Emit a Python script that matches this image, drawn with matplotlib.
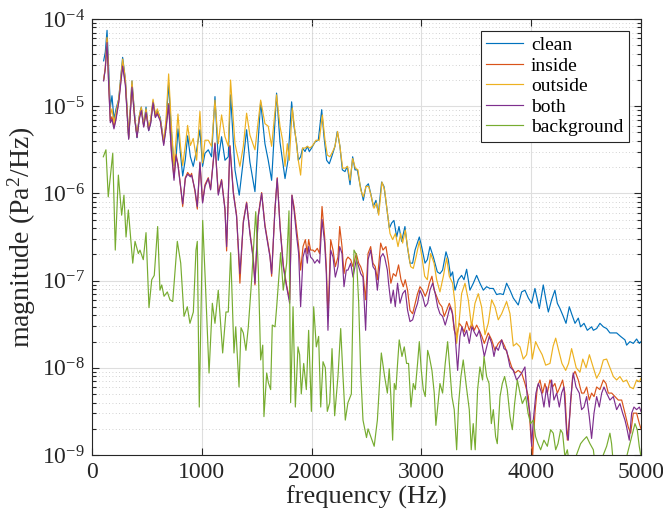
import numpy as np
import matplotlib
matplotlib.use("Agg")
import matplotlib.pyplot as plt
from matplotlib.ticker import LogLocator, NullFormatter


# Power spectra, as (frequency in Hz, log10 of magnitude in Pa^2/Hz)
CLEAN = [
    (106, -4.48), (121, -4.38), (137, -4.13), (152, -4.57), (167, -5.01), (182, -4.88), (200, -5.15), (219, -5.03),
    (243, -4.92), (279, -4.44), (304, -4.69), (334, -5.36), (364, -4.71), (389, -5.11), (410, -5.36), (431, -5.11),
    (449, -5.01), (471, -5.22), (492, -5.01), (516, -5.28), (534, -5.19), (556, -4.94), (577, -5.11), (595, -5.05),
    (622, -5.13), (653, -5.41), (674, -5.22), (698, -4.73), (723, -5.30), (747, -5.68), (765, -5.61), (783, -5.26),
    (805, -5.53), (826, -5.80), (850, -5.61), (871, -5.34), (896, -5.58), (922, -5.69), (953, -5.50), (983, -5.27),
    (1007, -5.69), (1029, -5.54), (1059, -5.50), (1089, -5.58), (1120, -4.89), (1150, -5.62), (1180, -5.35),
    (1211, -5.62), (1241, -5.58), (1262, -4.87), (1302, -5.73), (1341, -6.02), (1378, -5.62), (1408, -5.27),
    (1438, -5.64), (1484, -5.98), (1536, -4.95), (1575, -5.43), (1605, -5.62), (1636, -5.85), (1681, -4.85),
    (1712, -5.41), (1758, -5.83), (1785, -5.62), (1818, -4.95), (1840, -5.23), (1864, -5.43), (1879, -5.62),
    (1900, -5.58), (1918, -5.48), (1940, -5.52), (1961, -5.46), (1979, -5.52), (2000, -5.48), (2031, -5.41),
    (2061, -5.39), (2092, -5.04), (2113, -5.35), (2137, -5.62), (2161, -5.66), (2183, -5.58), (2213, -5.46),
    (2234, -5.29), (2258, -5.46), (2280, -5.73), (2304, -5.75), (2325, -5.69), (2350, -5.90), (2374, -5.58),
    (2395, -5.73), (2416, -5.73), (2441, -5.90), (2471, -6.08), (2495, -5.92), (2517, -5.89), (2538, -6.00),
    (2562, -6.15), (2586, -6.08), (2608, -6.23), (2638, -5.87), (2659, -5.92), (2683, -6.15), (2708, -6.40),
    (2729, -6.34), (2750, -6.31), (2775, -6.50), (2796, -6.38), (2820, -6.55), (2850, -6.38), (2872, -6.61),
    (2896, -6.80), (2920, -6.80), (2942, -6.65), (2981, -6.50), (3002, -6.61), (3033, -6.80), (3054, -6.76),
    (3078, -6.61), (3109, -6.73), (3145, -6.90), (3169, -6.92), (3193, -6.88), (3224, -6.67), (3245, -6.76),
    (3266, -6.95), (3284, -6.90), (3306, -7.11), (3336, -6.99), (3366, -6.94), (3388, -6.99), (3412, -6.87),
    (3442, -7.11), (3473, -7.03), (3503, -6.94), (3533, -7.03), (3564, -7.11), (3594, -7.07), (3624, -7.09),
    (3655, -7.09), (3685, -7.16), (3716, -7.15), (3746, -7.16), (3776, -7.03), (3807, -7.11), (3837, -7.20),
    (3882, -7.28), (3913, -7.13), (3943, -7.11), (3974, -7.20), (4004, -7.26), (4034, -7.09), (4074, -7.32),
    (4110, -7.05), (4134, -7.22), (4156, -7.36), (4186, -7.22), (4216, -7.11), (4238, -7.26), (4262, -7.32),
    (4292, -7.41), (4317, -7.49), (4347, -7.30), (4368, -7.38), (4399, -7.49), (4429, -7.43), (4450, -7.53),
    (4481, -7.49), (4511, -7.57), (4550, -7.53), (4566, -7.57), (4596, -7.55), (4626, -7.49), (4657, -7.53),
    (4687, -7.55), (4717, -7.60), (4748, -7.60), (4778, -7.60), (4814, -7.64), (4854, -7.68), (4869, -7.74),
    (4899, -7.70), (4930, -7.72), (4960, -7.67), (4985, -7.72), (5000, -7.70),
]

INSIDE = [
    (106, -4.70), (121, -4.56), (137, -4.23), (152, -4.74), (167, -5.17), (182, -5.12), (200, -5.24), (219, -5.13),
    (243, -4.95), (279, -4.51), (304, -4.74), (334, -5.37), (364, -4.76), (389, -5.14), (410, -5.35), (431, -5.13),
    (449, -5.03), (471, -5.23), (492, -5.05), (516, -5.27), (534, -5.18), (556, -4.95), (577, -5.12), (595, -5.07),
    (622, -5.16), (653, -5.43), (674, -5.24), (698, -4.97), (723, -5.50), (747, -5.82), (765, -5.55), (783, -5.66),
    (805, -5.90), (826, -6.15), (850, -5.82), (871, -5.76), (896, -5.80), (907, -5.77), (938, -5.98), (959, -6.18),
    (983, -5.64), (1007, -6.10), (1029, -5.90), (1059, -5.82), (1080, -5.95), (1120, -5.42), (1150, -6.00),
    (1180, -5.84), (1211, -6.17), (1226, -6.66), (1256, -5.45), (1287, -5.98), (1317, -6.25), (1347, -7.03),
    (1378, -6.32), (1408, -6.10), (1438, -6.44), (1469, -6.74), (1484, -7.05), (1514, -6.25), (1545, -5.99),
    (1575, -6.36), (1621, -6.71), (1636, -6.95), (1666, -6.18), (1687, -5.82), (1712, -6.36), (1742, -6.82),
    (1772, -7.05), (1800, -7.22), (1821, -6.02), (1840, -6.15), (1861, -6.38), (1882, -6.61), (1900, -6.88),
    (1922, -6.61), (1943, -6.53), (1961, -6.69), (1973, -6.53), (1991, -6.65), (2013, -6.65), (2028, -6.67),
    (2052, -6.63), (2073, -6.69), (2095, -6.15), (2119, -6.50), (2134, -6.84), (2149, -7.41), (2174, -6.53),
    (2195, -6.65), (2216, -6.84), (2240, -6.73), (2256, -6.38), (2277, -6.61), (2295, -6.92), (2316, -6.76),
    (2331, -6.73), (2356, -6.76), (2377, -6.84), (2407, -6.69), (2429, -6.80), (2447, -6.84), (2468, -6.92),
    (2492, -7.22), (2514, -6.69), (2538, -6.61), (2559, -6.80), (2580, -6.84), (2599, -6.99), (2629, -6.57),
    (2650, -6.65), (2677, -6.61), (2701, -6.80), (2722, -7.03), (2744, -6.92), (2768, -6.95), (2792, -6.82),
    (2814, -6.99), (2835, -7.07), (2853, -6.99), (2874, -7.11), (2896, -7.34), (2920, -7.38), (2944, -7.26),
    (2965, -7.15), (2987, -7.07), (3011, -7.11), (3035, -7.18), (3057, -7.11), (3072, -7.03), (3096, -6.95),
    (3117, -7.11), (3138, -7.18), (3163, -7.26), (3187, -7.30), (3208, -7.41), (3230, -7.34), (3254, -7.26),
    (3278, -7.34), (3299, -7.57), (3321, -7.64), (3345, -7.49), (3369, -7.53), (3390, -7.59), (3412, -7.47),
    (3436, -7.57), (3460, -7.49), (3481, -7.57), (3503, -7.51), (3527, -7.57), (3551, -7.64), (3573, -7.72),
    (3609, -7.60), (3640, -7.68), (3670, -7.80), (3700, -7.72), (3731, -7.68), (3761, -7.76), (3791, -7.87),
    (3822, -7.99), (3852, -8.06), (3882, -8.03), (3913, -8.06), (3943, -8.18), (3974, -8.33), (3995, -8.75),
    (4013, -9.02), (4034, -8.52), (4056, -8.22), (4080, -8.14), (4104, -8.29), (4125, -8.18), (4147, -8.29),
    (4171, -8.14), (4195, -8.22), (4216, -8.18), (4238, -8.29), (4262, -8.22), (4286, -8.14), (4307, -8.29),
    (4329, -8.83), (4353, -8.52), (4377, -8.10), (4399, -8.04), (4429, -8.14), (4459, -8.29), (4481, -8.29),
    (4505, -8.22), (4529, -8.37), (4550, -8.29), (4572, -8.33), (4596, -8.22), (4626, -8.25), (4657, -8.14),
    (4681, -8.18), (4702, -8.29), (4733, -8.29), (4763, -8.33), (4793, -8.37), (4824, -8.37), (4854, -8.52),
    (4884, -8.68), (4906, -8.75), (4930, -8.52), (4960, -8.52), (4985, -8.64), (5000, -8.70),
]

OUTSIDE = [
    (106, -4.69), (121, -4.57), (137, -4.21), (152, -4.65), (167, -5.11), (182, -5.03), (200, -5.19), (219, -5.07),
    (243, -4.92), (279, -4.46), (304, -4.69), (334, -5.34), (364, -4.71), (389, -5.13), (410, -5.34), (431, -5.11),
    (449, -5.01), (471, -5.22), (492, -5.03), (516, -5.26), (534, -5.15), (556, -4.92), (577, -5.09), (595, -5.03),
    (622, -5.15), (653, -5.40), (674, -5.15), (698, -4.63), (723, -5.22), (747, -5.68), (765, -5.38), (783, -5.09),
    (805, -5.45), (826, -5.68), (850, -5.45), (871, -5.22), (896, -5.45), (922, -5.37), (953, -5.62), (983, -5.06),
    (1007, -5.65), (1029, -5.39), (1059, -5.39), (1089, -5.46), (1120, -4.93), (1150, -5.43), (1180, -5.10),
    (1211, -5.35), (1241, -5.46), (1262, -4.70), (1302, -5.43), (1347, -5.69), (1378, -5.46), (1408, -5.08),
    (1438, -5.33), (1484, -5.50), (1536, -4.93), (1575, -5.20), (1605, -5.23), (1636, -5.46), (1681, -4.87),
    (1712, -5.23), (1736, -5.39), (1758, -5.69), (1779, -5.43), (1797, -5.62), (1824, -5.02), (1849, -5.29),
    (1879, -5.62), (1900, -5.79), (1918, -5.48), (1940, -5.48), (1961, -5.46), (1985, -5.48), (2010, -5.45),
    (2040, -5.39), (2070, -5.39), (2098, -5.10), (2122, -5.39), (2143, -5.56), (2167, -5.58), (2192, -5.52),
    (2213, -5.46), (2237, -5.29), (2258, -5.46), (2283, -5.71), (2307, -5.71), (2328, -5.69), (2350, -5.85),
    (2374, -5.60), (2398, -5.71), (2422, -5.73), (2447, -5.96), (2471, -6.04), (2495, -5.92), (2520, -5.92),
    (2544, -6.04), (2568, -6.17), (2592, -6.11), (2611, -6.25), (2641, -5.87), (2665, -5.96), (2690, -6.21),
    (2714, -6.46), (2738, -6.53), (2763, -6.46), (2787, -6.61), (2811, -6.46), (2829, -6.57), (2853, -6.42),
    (2878, -6.65), (2902, -6.84), (2926, -6.86), (2951, -6.73), (2981, -6.55), (3005, -6.73), (3030, -6.95),
    (3054, -6.99), (3084, -6.69), (3115, -6.80), (3139, -6.99), (3169, -7.13), (3200, -6.95), (3230, -6.74),
    (3254, -6.95), (3284, -7.03), (3306, -7.26), (3321, -7.72), (3345, -7.45), (3366, -7.15), (3397, -7.03),
    (3427, -7.22), (3457, -7.53), (3488, -7.26), (3518, -7.15), (3548, -7.30), (3579, -7.62), (3609, -7.49),
    (3640, -7.22), (3670, -7.30), (3700, -7.45), (3731, -7.38), (3776, -7.24), (3807, -7.38), (3837, -7.75),
    (3867, -7.72), (3898, -7.76), (3928, -7.90), (3958, -7.85), (3989, -7.60), (4010, -7.90), (4040, -7.70),
    (4070, -7.78), (4100, -7.85), (4132, -7.97), (4171, -7.95), (4200, -7.75), (4223, -7.66), (4250, -7.80),
    (4280, -7.95), (4314, -8.03), (4340, -7.95), (4368, -7.78), (4410, -8.00), (4444, -8.05), (4470, -7.90),
    (4500, -8.00), (4530, -7.85), (4566, -8.00), (4596, -8.12), (4626, -8.05), (4657, -7.91), (4687, -7.90),
    (4717, -8.00), (4748, -8.10), (4778, -8.14), (4808, -8.10), (4838, -8.16), (4869, -8.14), (4899, -8.22),
    (4930, -8.24), (4960, -8.14), (4985, -8.16), (5000, -8.12),
]

BOTH = [
    (106, -4.71), (121, -4.57), (137, -4.27), (152, -4.76), (167, -5.19), (182, -5.15), (200, -5.26), (219, -5.15),
    (243, -4.96), (279, -4.54), (304, -4.76), (334, -5.38), (364, -4.78), (389, -5.15), (410, -5.36), (431, -5.15),
    (449, -5.05), (471, -5.24), (492, -5.07), (516, -5.28), (534, -5.20), (556, -4.96), (577, -5.13), (595, -5.09),
    (622, -5.17), (653, -5.45), (674, -5.26), (698, -4.99), (723, -5.53), (747, -5.85), (765, -5.57), (783, -5.68),
    (805, -5.91), (826, -6.12), (850, -5.83), (871, -5.78), (896, -5.81), (907, -5.79), (938, -5.96), (959, -6.15),
    (983, -5.65), (1007, -6.11), (1029, -5.92), (1059, -5.83), (1080, -5.96), (1120, -5.43), (1150, -6.02),
    (1180, -5.85), (1211, -6.19), (1226, -6.61), (1256, -5.46), (1287, -6.00), (1317, -6.27), (1347, -6.92),
    (1378, -6.34), (1408, -6.11), (1438, -6.46), (1469, -6.76), (1484, -7.03), (1514, -6.27), (1545, -6.00),
    (1575, -6.38), (1621, -6.73), (1636, -6.92), (1666, -6.19), (1687, -5.83), (1712, -6.38), (1742, -6.84),
    (1772, -7.07), (1800, -7.26), (1821, -6.02), (1840, -6.19), (1861, -6.46), (1882, -6.69), (1900, -7.30),
    (1922, -6.73), (1943, -6.63), (1961, -6.80), (1973, -6.61), (1991, -6.73), (2013, -6.76), (2028, -6.80),
    (2052, -6.76), (2073, -6.80), (2095, -6.30), (2119, -6.57), (2134, -6.92), (2149, -7.57), (2174, -6.65),
    (2195, -6.73), (2216, -6.96), (2240, -6.84), (2256, -6.61), (2277, -6.69), (2295, -7.07), (2316, -6.88),
    (2331, -6.88), (2356, -6.80), (2377, -6.96), (2407, -6.76), (2429, -6.84), (2447, -6.92), (2468, -6.96),
    (2492, -7.57), (2514, -6.76), (2538, -6.65), (2559, -6.84), (2580, -6.88), (2599, -7.11), (2629, -6.73),
    (2650, -6.69), (2665, -6.73), (2690, -6.88), (2701, -7.03), (2722, -7.26), (2744, -7.11), (2762, -7.30),
    (2783, -7.03), (2805, -7.26), (2829, -7.15), (2853, -7.11), (2874, -7.34), (2896, -7.47), (2920, -7.45),
    (2944, -7.34), (2965, -7.26), (2987, -7.11), (3011, -7.18), (3035, -7.30), (3057, -7.26), (3078, -7.11),
    (3102, -7.03), (3126, -7.15), (3148, -7.30), (3169, -7.38), (3193, -7.41), (3217, -7.51), (3239, -7.41),
    (3260, -7.30), (3284, -7.38), (3308, -7.64), (3330, -8.03), (3351, -7.64), (3369, -7.53), (3390, -7.64),
    (3412, -7.57), (3436, -7.72), (3460, -7.53), (3481, -7.59), (3503, -7.64), (3527, -7.57), (3551, -7.72),
    (3573, -7.87), (3618, -7.64), (3640, -7.72), (3661, -7.87), (3679, -7.76), (3700, -7.80), (3731, -7.68),
    (3752, -7.78), (3776, -7.80), (3807, -7.99), (3837, -8.03), (3867, -8.14), (3892, -8.10), (3913, -8.06),
    (3943, -7.99), (3964, -8.33), (3989, -8.52), (4004, -8.90), (4019, -8.60), (4043, -8.29), (4065, -8.18),
    (4095, -8.29), (4116, -8.45), (4140, -8.22), (4165, -8.45), (4186, -8.14), (4207, -8.37), (4232, -8.29),
    (4256, -8.45), (4277, -8.29), (4298, -8.22), (4323, -8.75), (4338, -8.83), (4359, -8.37), (4383, -8.06),
    (4408, -8.22), (4438, -8.29), (4459, -8.48), (4481, -8.45), (4505, -8.33), (4529, -8.56), (4550, -8.81),
    (4572, -8.52), (4596, -8.33), (4620, -8.45), (4642, -8.29), (4663, -8.22), (4687, -8.29), (4717, -8.37),
    (4748, -8.33), (4778, -8.48), (4808, -8.41), (4833, -8.52), (4854, -8.60), (4869, -8.68), (4893, -8.83),
    (4915, -8.52), (4936, -8.45), (4960, -8.48), (4985, -8.45), (5000, -8.50),
]

BACKGROUND = [
    (103, -5.58), (127, -5.50), (148, -6.04), (189, -5.54), (212, -6.65), (240, -5.79), (270, -6.25), (291, -6.02),
    (310, -6.50), (331, -6.19), (371, -6.80), (392, -6.55), (422, -6.69), (437, -6.65), (467, -6.76), (492, -6.45),
    (519, -7.31), (544, -6.99), (567, -6.94), (598, -6.38), (619, -7.11), (635, -7.05), (656, -7.18), (686, -7.13),
    (710, -7.22), (735, -7.24), (777, -6.55), (808, -6.80), (838, -7.41), (868, -7.30), (892, -7.49), (923, -7.36),
    (947, -6.65), (959, -6.55), (977, -8.45), (1008, -6.31), (1029, -6.92), (1066, -8.06), (1096, -7.26),
    (1120, -7.49), (1150, -7.11), (1190, -7.83), (1220, -7.36), (1241, -7.36), (1263, -6.68), (1293, -7.83),
    (1309, -7.53), (1339, -8.22), (1357, -7.54), (1378, -7.60), (1402, -7.80), (1423, -7.54), (1454, -6.99),
    (1491, -6.21), (1515, -6.88), (1536, -7.91), (1555, -7.74), (1566, -8.56), (1591, -8.06), (1606, -8.17),
    (1627, -8.25), (1642, -7.51), (1667, -7.53), (1682, -7.30), (1718, -6.68), (1742, -7.11), (1773, -6.80),
    (1794, -6.20), (1809, -8.40), (1831, -7.30), (1852, -8.45), (1876, -7.76), (1891, -7.85), (1906, -8.30),
    (1928, -7.95), (1952, -8.25), (1973, -7.57), (1998, -8.50), (2019, -7.30), (2043, -7.76), (2064, -7.64),
    (2083, -8.45), (2104, -7.93), (2125, -8.00), (2143, -8.50), (2165, -8.40), (2186, -7.78), (2210, -8.55),
    (2240, -8.10), (2265, -7.55), (2286, -8.10), (2307, -8.60), (2331, -8.40), (2362, -8.30), (2386, -6.65),
    (2407, -6.70), (2429, -7.26), (2447, -8.05), (2468, -8.60), (2500, -8.80), (2514, -8.70), (2570, -8.90),
    (2599, -8.60), (2635, -7.83), (2665, -8.10), (2690, -8.29), (2707, -8.01), (2722, -8.33), (2738, -8.83),
    (2753, -8.18), (2768, -8.25), (2783, -7.95), (2798, -7.68), (2823, -7.87), (2844, -7.76), (2865, -7.95),
    (2883, -7.95), (2905, -8.45), (2926, -8.18), (2944, -8.25), (2965, -7.95), (2981, -7.70), (2999, -8.03),
    (3017, -8.25), (3035, -8.33), (3057, -7.80), (3072, -7.87), (3096, -8.03), (3117, -8.29), (3132, -8.66),
    (3151, -8.41), (3169, -8.18), (3193, -8.29), (3217, -7.95), (3239, -7.70), (3260, -8.03), (3278, -8.33),
    (3299, -8.48), (3321, -8.94), (3339, -8.41), (3360, -8.10), (3381, -7.91), (3406, -8.18), (3421, -8.33),
    (3436, -8.48), (3454, -8.94), (3472, -8.64), (3490, -8.94), (3512, -8.25), (3533, -7.99), (3557, -8.14),
    (3570, -7.87), (3594, -8.10), (3616, -8.18), (3637, -8.64), (3655, -8.48), (3676, -8.79), (3691, -8.87),
    (3716, -8.33), (3737, -8.18), (3758, -8.10), (3782, -8.25), (3807, -8.56), (3828, -8.71), (3849, -8.41),
    (3874, -8.14), (3898, -8.29), (3919, -8.41), (3950, -8.33), (3971, -8.52), (3995, -8.64), (4019, -8.60),
    (4040, -8.79), (4062, -8.87), (4086, -8.94), (4116, -8.83), (4147, -8.90), (4177, -8.71), (4201, -8.75),
    (4223, -8.94), (4244, -8.87), (4268, -8.71), (4286, -8.75), (4307, -9.02), (4329, -8.94), (4353, -9.15),
    (4383, -9.10), (4429, -8.94), (4450, -8.87), (4475, -8.83), (4505, -8.79), (4535, -8.87), (4566, -8.94),
    (4581, -9.10), (4611, -9.17), (4650, -9.02), (4687, -8.90), (4717, -8.75), (4732, -8.87), (4748, -9.10),
    (4778, -9.17), (4824, -9.13), (4869, -9.02), (4915, -8.79), (4945, -8.64), (4966, -8.71), (4984, -8.90),
    (5000, -9.02),
]

LABELS = ["clean", "inside", "outside", "both", "background"]
COLORS = ["#0072BD", "#D95319", "#EDB120", "#7E2F8E", "#77AC30"]

AX_COLOR = "#262626"


def main():
    plt.rcParams["font.family"] = "Liberation Serif"
    plt.rcParams["mathtext.fontset"] = "custom"
    plt.rcParams["mathtext.rm"] = "Liberation Serif"
    plt.rcParams["mathtext.it"] = "Liberation Serif:italic"

    fig = plt.figure(figsize=(6.63, 5.09), dpi=100)
    ax = fig.add_axes([92 / 663, 54 / 509, 549 / 663, 436 / 509])

    series = [CLEAN, INSIDE, OUTSIDE, BOTH, BACKGROUND]
    for pts, label, color in zip(series, LABELS, COLORS):
        freq = np.array([p[0] for p in pts], dtype=float)
        level = np.array([p[1] for p in pts], dtype=float)
        ax.semilogy(freq, 10.0 ** level, color=color, lw=0.85, label=label)

    ax.set_xlim(0, 5000)
    ax.set_ylim(1e-9, 1e-4)
    ax.set_xticks(range(0, 5001, 1000))
    ax.yaxis.set_major_locator(LogLocator(base=10, numticks=10))
    ax.yaxis.set_minor_locator(LogLocator(base=10, subs=np.arange(2, 10), numticks=20))
    ax.yaxis.set_minor_formatter(NullFormatter())

    # grid: solid at the decades / thousands, dotted at the minor decades
    ax.grid(True, which="major", color="#dedede", lw=0.8)
    ax.grid(True, which="minor", axis="y", color="#c4c4c4", lw=0.6, ls=(0, (1, 3)))
    ax.set_axisbelow(True)

    ax.tick_params(which="both", direction="in", top=True, right=True,
                   color=AX_COLOR, labelcolor=AX_COLOR, labelsize=17, width=0.8)
    ax.tick_params(which="major", length=5, pad=5)
    ax.tick_params(which="minor", length=3)
    for sp in ax.spines.values():
        sp.set_color(AX_COLOR)
        sp.set_linewidth(0.8)

    ax.set_xlabel("frequency (Hz)", fontsize=19, color=AX_COLOR, labelpad=2)
    ax.set_ylabel("magnitude (Pa$^2$/Hz)", fontsize=20, color=AX_COLOR, labelpad=3)

    leg = ax.legend(loc="upper right", fontsize=14, fancybox=False, framealpha=1,
                    edgecolor=AX_COLOR, handlelength=1.9, handletextpad=0.4,
                    borderpad=0.3, labelspacing=0.15, borderaxespad=0.6)
    leg.get_frame().set_linewidth(0.8)

    fig.savefig("out.png", dpi=100)
    plt.close(fig)


if __name__ == "__main__":
    main()
